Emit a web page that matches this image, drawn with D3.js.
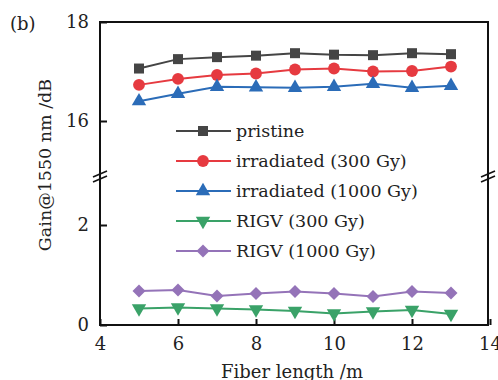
<!DOCTYPE html>
<html>
<head>
<meta charset="utf-8">
<script src="https://cdn.jsdelivr.net/npm/d3@7"></script>
<style>
  body { margin: 0; background: #fff; }
  text { font-family: "DejaVu Serif", serif; fill: #222; }
</style>
</head>
<body>
<div id="chart"></div>
<script>
// fiber length (m)
var lengths = [5, 6, 7, 8, 9, 10, 11, 12, 13];
var pristine = [17.06, 17.25, 17.29, 17.32, 17.37, 17.34, 17.33, 17.37, 17.35];
var irr300 = [16.73, 16.85, 16.93, 16.96, 17.04, 17.06, 17.0, 17.01, 17.10];
var irr1000 = [16.40, 16.55, 16.69, 16.68, 16.67, 16.69, 16.75, 16.67, 16.71];
var rigv300 = [0.33, 0.35, 0.33, 0.31, 0.28, 0.23, 0.27, 0.30, 0.22];
var rigv1000 = [0.68, 0.70, 0.58, 0.63, 0.67, 0.63, 0.57, 0.67, 0.64];
var xTicks = [4, 6, 8, 10, 12, 14];
var yTicksLow = [0, 2];
var yTicksHigh = [16, 18];

(function() {
  var w = 498, h = 380;
  var pl = 100, pr = 488, pt = 22, pb = 325;

  var svg = d3.select("#chart").append("svg")
      .attr("width", w)
      .attr("height", h);

  var x = d3.scaleLinear().domain([4, 14]).range([pl, pl + 390]);
  var yLow = d3.scaleLinear().domain([0, 3]).range([pb, 175]);
  var yHigh = d3.scaleLinear().domain([15, 18]).range([170.5, pt]);
  var yv = function(v) { return v >= 10 ? yHigh(v) : yLow(v); };

  var series = [
    {name: "pristine", data: pristine, color: "#454545", sym: d3.symbolSquare, size: 100, rot: 0},
    {name: "irradiated (300 Gy)", data: irr300, color: "#e63a40", sym: d3.symbolCircle, size: 110, rot: 0},
    {name: "irradiated (1000 Gy)", data: irr1000, color: "#2b6cb8", sym: d3.symbolTriangle, size: 90, rot: 0},
    {name: "RIGV (300 Gy)", data: rigv300, color: "#3aa268", sym: d3.symbolTriangle, size: 90, rot: 180},
    {name: "RIGV (1000 Gy)", data: rigv1000, color: "#9473b8", sym: d3.symbolSquare, size: 85, rot: 45}
  ];

  // frame
  svg.append("rect")
    .attr("x", pl).attr("y", pt)
    .attr("width", pr - pl).attr("height", pb - pt)
    .attr("fill", "none").attr("stroke", "#111").attr("stroke-width", 2);

  // axes
  var fmt = d3.format("d");
  var xAxis = svg.append("g")
    .attr("transform", "translate(0," + pb + ")")
    .call(d3.axisBottom(x).tickValues(xTicks).tickFormat(fmt).tickSize(-6).tickPadding(12));
  var yAxisLow = svg.append("g")
    .attr("transform", "translate(" + pl + ",0)")
    .call(d3.axisLeft(yLow).tickValues(yTicksLow).tickFormat(fmt).tickSize(-7).tickPadding(11));
  var yAxisHigh = svg.append("g")
    .attr("transform", "translate(" + pl + ",0)")
    .call(d3.axisLeft(yHigh).tickValues(yTicksHigh).tickFormat(fmt).tickSize(-7).tickPadding(11));

  [xAxis, yAxisLow, yAxisHigh].forEach(function(g) {
    g.select(".domain").remove();
    g.selectAll(".tick line").attr("stroke", "#111").attr("stroke-width", 2);
    g.selectAll(".tick text").style("font-size", "18px").attr("fill", "#222");
  });

  // axis breaks
  [pl, pr].forEach(function(bx) {
    [0, 5].forEach(function(dy) {
      svg.append("line")
        .attr("x1", bx - 7).attr("y1", 177 + dy)
        .attr("x2", bx + 7).attr("y2", 171 + dy)
        .attr("stroke", "#111").attr("stroke-width", 1.6);
    });
  });

  var line = d3.line()
    .x(function(d, i) { return x(lengths[i]); })
    .y(function(d) { return yv(d); });

  series.forEach(function(s) {
    svg.append("path")
      .attr("d", line(s.data))
      .attr("fill", "none")
      .attr("stroke", s.color)
      .attr("stroke-width", 2);
    svg.selectAll(null)
      .data(s.data)
      .enter().append("path")
      .attr("d", d3.symbol().type(s.sym).size(s.size))
      .attr("transform", function(d, i) {
        return "translate(" + x(lengths[i]) + "," + yv(d) + ") rotate(" + s.rot + ")";
      })
      .attr("fill", s.color);
  });

  // legend
  var legend = svg.append("g").attr("transform", "translate(176,131)");
  series.forEach(function(s, i) {
    var g = legend.append("g").attr("transform", "translate(0," + (i * 30) + ")");
    g.append("line").attr("x1", 0).attr("x2", 55).attr("y1", 0).attr("y2", 0)
      .attr("stroke", s.color).attr("stroke-width", 2);
    g.append("path")
      .attr("d", d3.symbol().type(s.sym).size(s.size))
      .attr("transform", "translate(27,0) rotate(" + s.rot + ")")
      .attr("fill", s.color);
    g.append("text")
      .attr("x", 60).attr("y", 0).attr("dy", "0.35em")
      .style("font-size", "17.5px")
      .text(s.name);
  });

  // labels
  svg.append("text")
    .attr("x", (pl + pr) / 2 - 2).attr("y", 372).attr("dy", "0.35em")
    .attr("text-anchor", "middle")
    .style("font-size", "18px")
    .text("Fiber length /m");

  svg.append("text")
    .attr("transform", "translate(45,165) rotate(-90)")
    .attr("text-anchor", "middle").attr("dy", "0.35em")
    .style("font-size", "17.5px")
    .text("Gain@1550 nm /dB");

  svg.append("text")
    .attr("x", 10).attr("y", 24).attr("dy", "0.35em")
    .style("font-size", "18px")
    .text("(b)");
})();
</script>
</body>
</html>
